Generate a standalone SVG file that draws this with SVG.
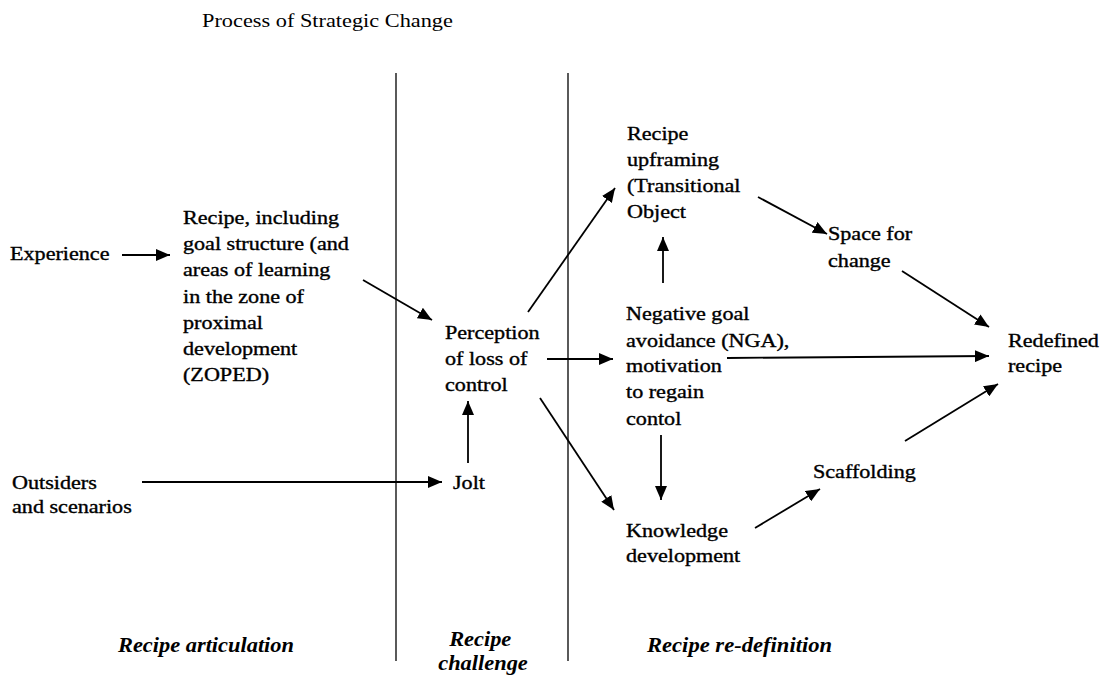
<svg xmlns="http://www.w3.org/2000/svg" width="1115" height="678" viewBox="0 0 1115 678">
<style>
.t{font-family:"Liberation Serif","Times New Roman",serif;font-size:18px;fill:#000;stroke:#000;stroke-width:0.35}
.title{font-family:"Liberation Serif","Times New Roman",serif;font-size:18px;fill:#000}
.lab{font-family:"Liberation Serif","Times New Roman",serif;font-size:20px;font-weight:bold;font-style:italic;fill:#000}
.c{stroke:#000;stroke-width:1.8;fill:none;marker-end:url(#ah)}
.div{stroke:#000;stroke-width:1.3;fill:none}
</style>
<defs>
<marker id="ah" markerUnits="userSpaceOnUse" markerWidth="14" markerHeight="12" refX="14" refY="6" orient="auto">
<path d="M0,0 L14,6 L0,12 z" fill="#000"/>
</marker>
</defs>
<rect width="1115" height="678" fill="#fff"/>
<g id="title" transform="translate(202,0) scale(1.24,1)"><text class="title" x="0" y="27">Process of Strategic Change</text></g>
<g id="dividers">
<line class="div" x1="396" y1="73" x2="396" y2="661"/>
<line class="div" x1="568" y1="73" x2="568" y2="661"/>
</g>
<g id="n-experience" transform="translate(10,0) scale(1.23,1)"><text class="t" x="0" y="260">Experience</text></g>
<g id="n-recipe" transform="translate(183,0) scale(1.23,1)"><text class="t">
<tspan x="0" y="224">Recipe, including</tspan>
<tspan x="0" y="250">goal structure (and</tspan>
<tspan x="0" y="276">areas of learning</tspan>
<tspan x="0" y="303">in the zone of</tspan>
<tspan x="0" y="329">proximal</tspan>
<tspan x="0" y="355">development</tspan>
<tspan x="0" y="381">(ZOPED)</tspan>
</text></g>
<g id="n-outsiders" transform="translate(12,0) scale(1.23,1)"><text class="t">
<tspan x="0" y="489">Outsiders</tspan>
<tspan x="0" y="513">and scenarios</tspan>
</text></g>
<g id="n-perception" transform="translate(445,0) scale(1.23,1)"><text class="t">
<tspan x="0" y="339">Perception</tspan>
<tspan x="0" y="365">of loss of</tspan>
<tspan x="0" y="391">control</tspan>
</text></g>
<g id="n-jolt" transform="translate(453,0) scale(1.23,1)"><text class="t" x="0" y="489">Jolt</text></g>
<g id="n-upframing" transform="translate(627,0) scale(1.23,1)"><text class="t">
<tspan x="0" y="140">Recipe</tspan>
<tspan x="0" y="166">upframing</tspan>
<tspan x="0" y="192">(Transitional</tspan>
<tspan x="0" y="218">Object</tspan>
</text></g>
<g id="n-nga" transform="translate(626,0) scale(1.23,1)"><text class="t">
<tspan x="0" y="320">Negative goal</tspan>
<tspan x="0" y="347">avoidance (NGA),</tspan>
<tspan x="0" y="372">motivation</tspan>
<tspan x="0" y="398">to regain</tspan>
<tspan x="0" y="425">contol</tspan>
</text></g>
<g id="n-knowledge" transform="translate(626,0) scale(1.23,1)"><text class="t">
<tspan x="0" y="537">Knowledge</tspan>
<tspan x="0" y="562">development</tspan>
</text></g>
<g id="n-space" transform="translate(828,0) scale(1.23,1)"><text class="t">
<tspan x="0" y="240">Space for</tspan>
<tspan x="0" y="267">change</tspan>
</text></g>
<g id="n-scaffolding" transform="translate(813,0) scale(1.23,1)"><text class="t" x="0" y="478">Scaffolding</text></g>
<g id="n-redefined" transform="translate(1008,0) scale(1.23,1)"><text class="t">
<tspan x="0" y="347">Redefined</tspan>
<tspan x="0" y="372">recipe</tspan>
</text></g>
<g id="lab-articulation" transform="translate(118,0) scale(1.12,1)"><text class="lab" x="0" y="652">Recipe articulation</text></g>
<g id="lab-challenge" transform="translate(483,0) scale(1.12,1)"><text class="lab" text-anchor="middle">
<tspan x="0" y="646">Recipe</tspan>
<tspan x="0" y="670">challenge</tspan>
</text></g>
<g id="lab-redefinition" transform="translate(647,0) scale(1.13,1)"><text class="lab" x="0" y="652">Recipe re-definition</text></g>
<g id="connectors">
<line class="c" x1="122" y1="255" x2="170" y2="255"/>
<line class="c" x1="363" y1="280" x2="432" y2="320"/>
<line class="c" x1="142" y1="482" x2="442" y2="482"/>
<line class="c" x1="468" y1="463" x2="468" y2="401"/>
<line class="c" x1="528" y1="312" x2="615" y2="188"/>
<line class="c" x1="547" y1="359" x2="613" y2="359"/>
<line class="c" x1="540" y1="398" x2="614" y2="510"/>
<line class="c" x1="663" y1="283" x2="663" y2="237"/>
<line class="c" x1="661" y1="435" x2="661" y2="500"/>
<line class="c" x1="758" y1="197" x2="827" y2="234"/>
<line class="c" x1="902" y1="271" x2="989" y2="327"/>
<line class="c" x1="727" y1="358" x2="989" y2="356"/>
<line class="c" x1="755" y1="528" x2="820" y2="489"/>
<line class="c" x1="905" y1="441" x2="998" y2="384"/>
</g>
</svg>
